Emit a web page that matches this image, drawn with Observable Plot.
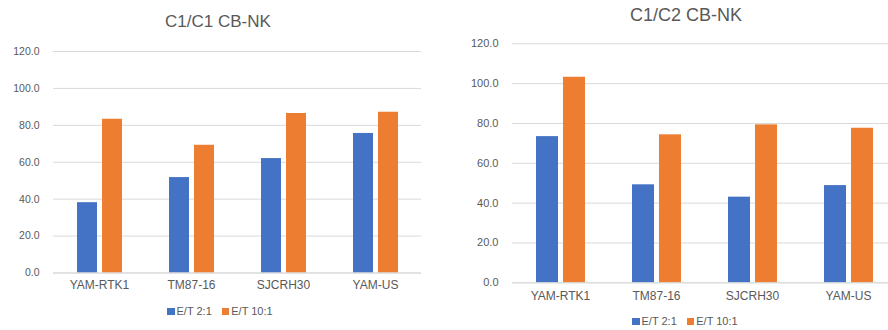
<!DOCTYPE html>
<html>
<head>
<meta charset="utf-8">
<script src="https://cdn.jsdelivr.net/npm/d3@7"></script>
<script src="https://cdn.jsdelivr.net/npm/@observablehq/plot@0.6"></script>
<style>
  html, body { margin: 0; padding: 0; background: #fff; }
  #root { position: relative; width: 888px; height: 330px; overflow: hidden; font-family: "Liberation Sans", Arial, sans-serif; color: #595959; }
  .panel { position: absolute; top: 0; overflow: hidden; }
  .panel svg { position: absolute; left: 0; top: 0; max-width: none; }
  .title { position: absolute; width: 240px; text-align: center; line-height: 1; white-space: nowrap; }
  .legend { position: absolute; display: flex; align-items: center; font-size: 11px; line-height: 1; white-space: nowrap; }
  .legend .sw { display: inline-block; width: 7.5px; height: 7.5px; margin-right: 2px; }
  .legend .item { display: flex; align-items: center; margin-right: 10px; }
</style>
</head>
<body>
<div id="root"></div>
<script>
const categories = ["YAM-RTK1", "TM87-16", "SJCRH30", "YAM-US"];
const series = ["E/T 2:1", "E/T 10:1"];
const colors = ["#4472C4", "#ED7D31"];
const yTicks = [0, 20, 40, 60, 80, 100, 120];

const c1c1Title = "C1/C1 CB-NK";
const c1c1_et2 = [38.1, 51.7, 62.0, 75.6];
const c1c1_et10 = [83.3, 69.2, 86.4, 87.1];

const c1c2Title = "C1/C2 CB-NK";
const c1c2_et2 = [73.4, 49.2, 43.0, 48.8];
const c1c2_et10 = [103.2, 74.3, 79.3, 77.6];

function buildRows(a, b) {
  return categories.flatMap((c, i) => [
    {cat: c, s: series[0], v: a[i]},
    {cat: c, s: series[1], v: b[i]}
  ]);
}

function chart(cfg) {
  const data = buildRows(cfg.a, cfg.b);
  return Plot.plot({
    width: cfg.width,
    height: cfg.height,
    marginLeft: cfg.ml, marginRight: cfg.mr, marginTop: cfg.mt, marginBottom: cfg.mb,
    style: {fontFamily: "'Liberation Sans', Arial, sans-serif", color: "#595959", background: "#fff", overflow: "visible"},
    fx: {domain: categories, padding: 0, label: null},
    x: {domain: series, paddingInner: 0.2, paddingOuter: 0.87, axis: null},
    y: {domain: [0, 120], label: null},
    color: {domain: series, range: colors},
    marks: [
      Plot.gridY(yTicks, {stroke: "#d9d9d9", strokeOpacity: 1}),
      Plot.barY(data, {fx: "cat", x: "s", y: "v", fill: "s"}),
      Plot.ruleY([0], {stroke: "#d9d9d9", strokeOpacity: 1}),
      Plot.axisY({ticks: yTicks, tickFormat: d => d.toFixed(1), tickSize: 0, tickPadding: 14, fontSize: cfg.yfs, label: null, fill: "#595959"}),
      Plot.axisFx({anchor: "bottom", tickSize: 0, tickPadding: cfg.xpad, fontSize: 12, label: null, fill: "#595959"})
    ]
  });
}

function legend(left, top) {
  const lg = document.createElement("div");
  lg.className = "legend";
  lg.style.left = left + "px";
  lg.style.top = top + "px";
  series.forEach((s, i) => {
    const it = document.createElement("span");
    it.className = "item";
    const sw = document.createElement("span");
    sw.className = "sw";
    sw.style.background = colors[i];
    it.appendChild(sw);
    it.appendChild(document.createTextNode(s));
    lg.appendChild(it);
  });
  return lg;
}

function title(text, cx, top, fs) {
  const t = document.createElement("div");
  t.className = "title";
  t.textContent = text;
  t.style.left = (cx - 120) + "px";
  t.style.top = top + "px";
  t.style.fontSize = fs + "px";
  return t;
}

const root = document.getElementById("root");

// Left panel
const p1 = document.createElement("div");
p1.className = "panel";
p1.style.left = "0px"; p1.style.width = "444px"; p1.style.height = "330px";
p1.appendChild(chart({a: c1c1_et2, b: c1c1_et10, width: 444, height: 300, ml: 52, mr: 22, mt: 51, mb: 27.5, yfs: 10.5, xpad: 7}));
p1.appendChild(title(c1c1Title, 218, 12.5, 17));
p1.appendChild(legend(167, 306));
root.appendChild(p1);

// Right panel (plot area runs past the right edge, as in the reference)
const p2 = document.createElement("div");
p2.className = "panel";
p2.style.left = "444px"; p2.style.width = "444px"; p2.style.height = "330px";
p2.appendChild(chart({a: c1c2_et2, b: c1c2_et10, width: 460, height: 310, ml: 68, mr: 8, mt: 43.3, mb: 27.7, yfs: 11, xpad: 9}));
p2.appendChild(title(c1c2Title, 242, 6, 18));
p2.appendChild(legend(188, 316));
root.appendChild(p2);
</script>
</body>
</html>
